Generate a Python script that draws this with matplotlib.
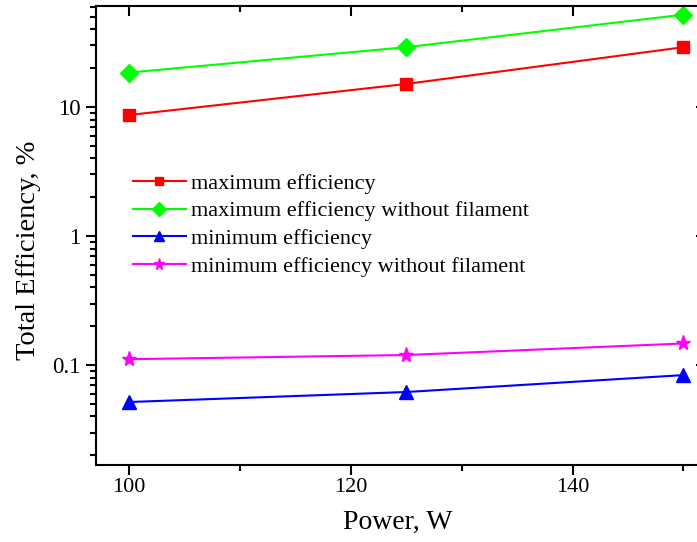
import numpy as np
import matplotlib
matplotlib.use("Agg")
import matplotlib.pyplot as plt
from matplotlib.ticker import LogLocator, NullFormatter, FixedLocator, FuncFormatter
from matplotlib import lines as mlines

plt.rcParams['font.family'] = ['Liberation Serif', 'DejaVu Serif']

# data
power = [100, 125, 150]
max_eff = [8.67, 15.1, 29.1]
max_eff_nofil = [18.5, 29.1, 52.0]
min_eff = [0.0517, 0.0618, 0.0836]
min_eff_nofil = [0.111, 0.1196, 0.147]

labels = ["maximum efficiency",
          "maximum efficiency without filament",
          "minimum efficiency",
          "minimum efficiency without filament"]

fig = plt.figure(figsize=(6.97, 5.42), dpi=100)
# right spine sits just outside the picture, as in the reference
ax = fig.add_axes([96/697, 1-465/542, 603/697, 459/542])

ax.plot(power, max_eff, '-', color='#ff0000', marker='s', ms=8.5, lw=1.5, label=labels[0])
ax.plot(power, max_eff_nofil, '-', color='#00ff00', marker='D', ms=9, lw=1.5, label=labels[1])
ax.plot(power, min_eff, '-', color='#0000ff', marker='^', ms=10, lw=1.5, label=labels[2])
ax.plot(power, min_eff_nofil, '-', color='#ff00ff', marker='*', ms=11, lw=1.5, label=labels[3])

ax.set_yscale('log')
ax.set_xlim(97.03, 151.4)
ax.set_ylim(0.0168, 60.7)

ax.xaxis.set_major_locator(FixedLocator([100, 120, 140]))
ax.xaxis.set_minor_locator(FixedLocator([110, 130, 150]))
ax.yaxis.set_major_locator(FixedLocator([0.1, 1, 10]))
ax.yaxis.set_major_formatter(FuncFormatter(lambda v, p: {0.1: "0.1", 1.0: "1", 10.0: "10"}.get(round(v, 3), "")))
ax.yaxis.set_minor_locator(LogLocator(base=10, subs=np.arange(2, 10)))
ax.yaxis.set_minor_formatter(NullFormatter())

for s in ax.spines.values():
    s.set_linewidth(1.5)

ax.tick_params(which='both', direction='out', labelsize=16, width=1.5, top=True, right=True)
ax.tick_params(which='major', length=7)
ax.tick_params(which='minor', length=4)
ax.tick_params(axis='x', pad=2)
ax.tick_params(axis='y', labelsize=16.5, pad=4)
# mirrored ticks point into the plot
for t in ax.xaxis.get_major_ticks() + ax.xaxis.get_minor_ticks():
    t.tick2line.set_marker(mlines.TICKDOWN)
for t in ax.yaxis.get_major_ticks():
    t.tick2line.set_marker(mlines.TICKLEFT)
    t.tick2line.set_markersize(2.5)
    t.tick2line.set_color('#888888')
for t in ax.yaxis.get_minor_ticks():
    t.tick2line.set_visible(False)

ax.set_xlabel("Power, W", fontsize=20, labelpad=10)
ax.set_ylabel("Total Efficiency, %", fontsize=20.5, labelpad=8, y=0.468)

ax.legend(loc='upper left', bbox_to_anchor=(0.061, 0.636), frameon=False,
          fontsize=16, handlelength=2.4, handletextpad=0.2, labelspacing=0.32,
          borderpad=0, borderaxespad=0, markerscale=0.75)

fig.savefig("out.png", dpi=100)
